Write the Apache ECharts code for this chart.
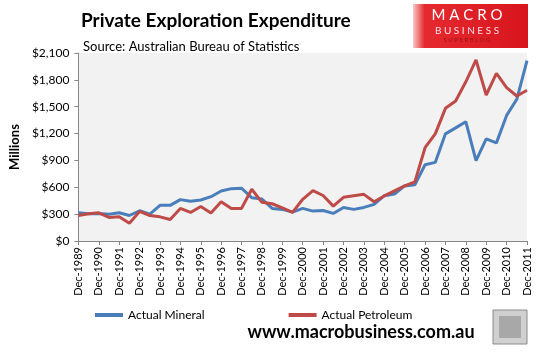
<!DOCTYPE html>
<html>
<head>
<meta charset="utf-8">
<script src="https://cdn.jsdelivr.net/npm/echarts@6/dist/echarts.min.js"></script>
<style>
  html, body { margin: 0; padding: 0; background: #fff; }
  #chart { width: 538px; height: 352px; }
</style>
</head>
<body>
<div id="chart"></div>
<script>
// half-yearly periods, Dec-1989 .. Dec-2011
const categories = [
  'Dec-1989', 'Jun-1990', 'Dec-1990', 'Jun-1991', 'Dec-1991', 'Jun-1992', 'Dec-1992', 'Jun-1993',
  'Dec-1993', 'Jun-1994', 'Dec-1994', 'Jun-1995', 'Dec-1995', 'Jun-1996', 'Dec-1996', 'Jun-1997',
  'Dec-1997', 'Jun-1998', 'Dec-1998', 'Jun-1999', 'Dec-1999', 'Jun-2000', 'Dec-2000', 'Jun-2001',
  'Dec-2001', 'Jun-2002', 'Dec-2002', 'Jun-2003', 'Dec-2003', 'Jun-2004', 'Dec-2004', 'Jun-2005',
  'Dec-2005', 'Jun-2006', 'Dec-2006', 'Jun-2007', 'Dec-2007', 'Jun-2008', 'Dec-2008', 'Jun-2009',
  'Dec-2009', 'Jun-2010', 'Dec-2010', 'Jun-2011', 'Dec-2011'
];

const mineral = [
  315, 304, 308, 300, 315, 285, 338, 300, 398, 398, 462, 443, 458, 495, 559, 585,
  589, 484, 469, 364, 353, 323, 364, 334, 340, 308, 375, 353, 375, 409, 506, 525,
  615, 627, 852, 878, 1197, 1264, 1332, 897, 1141, 1096, 1403, 1583, 2015
];

const petroleum = [
  285, 304, 315, 263, 270, 199, 330, 285, 270, 240, 364, 319, 385, 312, 439, 364,
  364, 578, 432, 416, 371, 319, 466, 563, 508, 390, 488, 506, 521, 439, 503, 559,
  615, 660, 1042, 1197, 1482, 1564, 1778, 2022, 1631, 1872, 1714, 1620, 1684
];

const yTicks = [0, 300, 600, 900, 1200, 1500, 1800, 2100];

const FONT = 'Lato, "Open Sans", sans-serif';

const chart = echarts.init(document.getElementById('chart'));

const option = {
  backgroundColor: '#fff',
  animation: false,
  textStyle: { fontFamily: FONT },
  title: [
    {
      text: 'Private Exploration Expenditure',
      left: 76, top: 6,
      textStyle: { fontSize: 19, fontWeight: 'bold', color: '#000', fontFamily: FONT }
    },
    {
      text: 'Source: Australian Bureau of Statistics',
      left: 78, top: 35,
      textStyle: { fontSize: 13, fontWeight: 'normal', color: '#000', fontFamily: FONT }
    }
  ],
  legend: {
    data: ['Actual Mineral', 'Actual Petroleum'],
    left: 90, top: 304,
    itemWidth: 28, itemHeight: 4, itemGap: 84,
    icon: 'rect',
    textStyle: { fontSize: 12, color: '#000', fontFamily: FONT }
  },
  grid: {
    left: 75, right: 11, top: 53, bottom: 111,
    show: true, backgroundColor: '#f2f2f2', borderWidth: 0
  },
  xAxis: {
    type: 'category',
    boundaryGap: false,
    data: categories,
    axisLine: { lineStyle: { color: '#868686', width: 1 } },
    axisTick: { interval: 1, length: 4, lineStyle: { color: '#868686' } },
    axisLabel: {
      interval: 1, rotate: 90, margin: 6,
      fontSize: 11, color: '#000', fontFamily: FONT
    }
  },
  yAxis: {
    type: 'value',
    min: 0, max: 2100, interval: 300,
    name: 'Millions',
    nameLocation: 'middle',
    nameGap: 50,
    nameTextStyle: { fontSize: 13, fontWeight: 'bold', color: '#000', fontFamily: FONT },
    axisLine: { show: true, lineStyle: { color: '#868686', width: 1 } },
    axisTick: { show: true, length: 4, lineStyle: { color: '#868686' } },
    splitLine: { show: false },
    axisLabel: {
      margin: 9, fontSize: 12, color: '#000', fontFamily: FONT,
      formatter: v => yTicks.includes(v) ? '$' + v.toLocaleString('en-US') : ''
    }
  },
  series: [
    {
      name: 'Actual Mineral',
      type: 'line',
      data: mineral,
      color: '#4a7ebb',
      showSymbol: false,
      lineStyle: { width: 3, color: '#4a7ebb' }
    },
    {
      name: 'Actual Petroleum',
      type: 'line',
      data: petroleum,
      color: '#be4b48',
      showSymbol: false,
      lineStyle: { width: 3, color: '#be4b48' }
    }
  ],
  graphic: [
    // logo box
    {
      type: 'rect',
      shape: { x: 413, y: 4, width: 115, height: 44 },
      style: {
        fill: new echarts.graphic.LinearGradient(0, 0, 1, 0, [
          { offset: 0, color: '#f8c8c8' },
          { offset: 0.1, color: '#e52a2f' },
          { offset: 1, color: '#d8141c' }
        ])
      }
    },
    {
      type: 'text',
      style: { x: 467, y: 8, text: 'M A C R O', fill: '#fff', font: '15px ' + FONT, align: 'center' }
    },
    {
      type: 'text',
      style: { x: 467, y: 26, text: 'B U S I N E S S', fill: '#fde', font: '10px ' + FONT, align: 'center' }
    },
    {
      type: 'text',
      style: { x: 467, y: 37, text: 'S U P E R B L O G', fill: '#a01016', font: '6px ' + FONT, align: 'center' }
    },
    // footer
    {
      type: 'text',
      style: {
        x: 361, y: 323, text: 'www.macrobusiness.com.au',
        fill: '#000', font: 'bold 18px ' + FONT, align: 'center'
      }
    },
    // wolf picture placeholder
    {
      type: 'rect',
      shape: { x: 493, y: 310, width: 34, height: 34 },
      style: { fill: '#d0d0d0', stroke: '#8a8a8a', lineWidth: 1 }
    },
    {
      type: 'rect',
      shape: { x: 499, y: 316, width: 22, height: 22 },
      style: { fill: '#a8a8a8' }
    }
  ]
};

chart.setOption(option);
</script>
</body>
</html>
